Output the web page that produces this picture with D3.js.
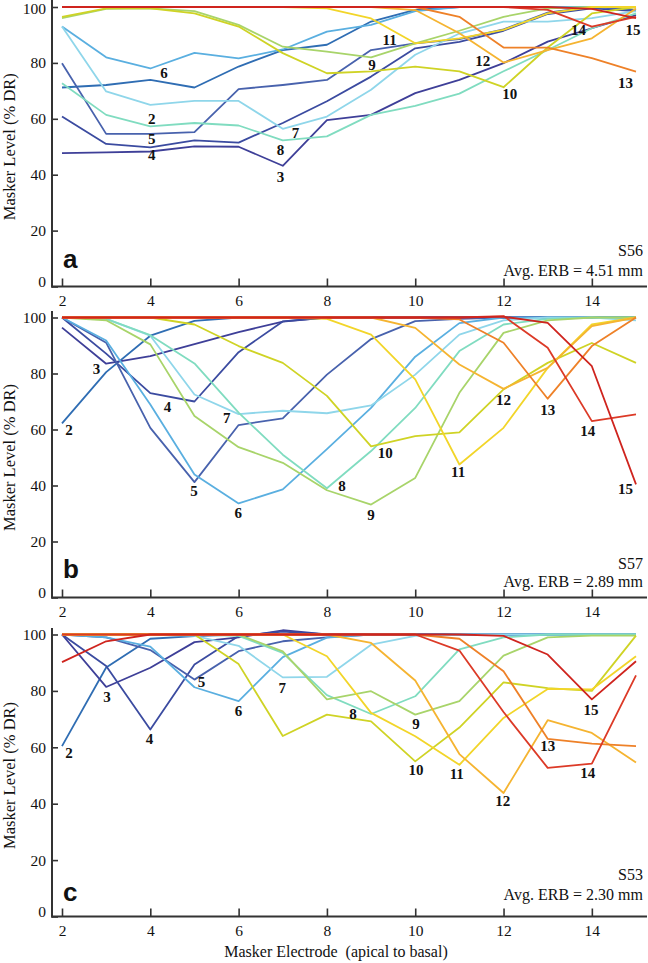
<!DOCTYPE html>
<html><head><meta charset="utf-8">
<script src="https://cdn.jsdelivr.net/npm/d3@7"></script>
<style>
body{margin:0;background:#fff}
svg{display:block}
text{font-family:"Liberation Serif","Times New Roman",serif;fill:#111}
</style>
</head><body>
<svg id="chart" width="648" height="963"></svg>
<script>
// ---- data ----
const electrodes = [2,3,4,5,6,7,8,9,10,11,12,13,14,15];
const probes = [2,3,4,5,6,7,8,9,10,11,12,13,14,15];
const probeColors = ["#2f6db3","#3e3f98","#3b4ba0","#4862ad","#5aafe0","#8fd6ea","#80dcc0",
                     "#a8d46a","#cfd325","#f2d529","#f5b431","#ee8128","#dc3a27","#cf241e"];
const xTicks = [2,4,6,8,10,12,14];
const yTicks = [0,20,40,60,80,100];

const s56Levels = [
 [71.2,72.1,73.9,71.2,78.7,84.6,86.5,94.8,99.0,100,100,100,100,100],
 [47.7,48.0,48.3,50.1,50.0,43.2,59.5,61.4,69.2,73.9,79.9,87.6,92.4,97.1],
 [60.8,51.0,49.8,52.3,51.5,58.5,66.3,75.1,85.2,87.5,91.5,97.5,99.5,98.5],
 [79.9,54.6,54.6,55.2,70.6,72.1,73.9,84.6,87.0,88.5,92.0,98.0,100,99.0],
 [93.0,82.0,78.0,83.6,81.6,84.8,91.2,93.6,98.5,100,100,100,100,100],
 [93.0,69.8,65.0,66.4,66.4,56.4,60.8,70.4,82.9,90.5,94.8,94.8,96.0,98.5],
 [72.7,61.4,57.3,58.5,57.6,52.3,53.7,61.4,64.6,69.0,77.0,84.6,92.4,97.7],
 [96.0,99.3,99.5,98.5,93.6,85.8,84.0,82.0,87.0,91.5,96.5,99.5,100,100],
 [96.5,99.5,99.5,97.7,93.0,83.5,76.3,77.0,78.7,77.0,71.3,85.5,97.7,100],
 [100,100,100,100,100,100,99.5,95.9,87.0,88.8,91.8,97.7,100,100],
 [100,100,100,100,100,100,100,100,98.9,90.6,80.1,84.6,88.8,99.5],
 [100,100,100,100,100,100,100,100,100,96.5,85.5,85.5,81.7,76.9],
 [100,100,100,100,100,100,100,100,100,100,100,99.0,93.0,96.5],
 [100,100,100,100,100,100,100,100,100,100,100,100,99.3,96.0]
];
const s57Levels = [
 [62.2,80.5,93.5,98.8,100,100,100,100,100,100,100,100,100,100],
 [96.4,83.5,86.2,90.5,94.8,98.5,100,100,100,100,100,100,100,100],
 [100,87.1,73.0,70.0,87.6,98.6,100,100,100,100,100,100,100,100],
 [100,91.0,60.6,41.2,61.6,64.0,79.6,92.3,98.7,99.5,100,100,100,100],
 [100,91.8,68.9,43.9,33.6,38.6,53.0,67.7,86.0,98.0,100,100,100,100],
 [100,99.5,93.5,72.5,65.5,66.7,65.8,68.6,79.6,93.9,99.0,100,100,99.0],
 [100,99.5,93.7,83.6,66.0,51.0,39.0,52.3,67.7,88.0,97.5,99.5,100,100],
 [100,99.0,90.4,64.8,53.7,48.1,38.3,33.2,42.7,73.1,94.5,99.0,100,100],
 [100,100,100,97.5,89.8,83.8,72.0,54.0,57.6,59.0,74.3,83.8,90.9,83.8],
 [100,100,100,100,100,100,99.5,93.9,77.9,47.5,60.6,82.0,97.5,100],
 [100,100,100,100,100,100,100,100,96.3,83.2,74.5,82.0,96.9,100],
 [100,100,100,100,100,100,100,100,100,99.3,91.0,71.0,89.8,100],
 [100,100,100,100,100,100,100,100,100,100,100.5,89.2,63.0,65.4],
 [100,100,100,100,100,100,100,100,100,100,100.3,98.1,82.6,40.4]
];
const s53Levels = [
 [60.4,88.3,98.5,99.4,100,100,100,100,100,100,100,100,100,100],
 [100,81.4,88.2,97.3,99.0,101.5,100,100,100,100,100,100,100,100],
 [100,88.8,66.3,89.4,99.5,101.0,100,100,100,100,100,100,100,100],
 [100,99.0,94.5,84.0,94.1,97.6,99.0,100,100,100,100,100,100,100],
 [100,99.0,95.7,81.3,76.4,92.0,98.9,100,100,100,100,100,100,100],
 [100,100,100,99.5,96.0,84.8,85.0,96.4,99.5,100,100,100,100,100],
 [100,100,100,100,99.5,93.5,78.5,71.8,78.1,94.7,99.0,100,100,100],
 [100,100,100,100,100,94.0,77.0,79.9,71.6,76.4,92.5,99.0,99.6,99.6],
 [100,100,100,100,89.5,64.0,71.6,69.2,55.0,67.0,83.0,81.0,80.0,99.6],
 [100,100,100,100,100,100,92.3,72.2,63.9,53.8,70.4,80.7,80.5,92.3],
 [100,100,100,100,100,100,100,97.0,83.7,57.6,43.8,69.6,65.1,54.6],
 [100,100,100,100,100,100,100,100,100,98.5,87.0,63.0,61.3,60.4],
 [100,100,100,100,100,100,100,100,100,94.3,72.5,52.7,54.2,85.5],
 [90.2,97.6,100,100,100,100,100,100,100,100,99.5,92.9,77.0,90.5]
];
// curve-label anchors in data units [electrode, level], probes 2..15
const s56LabelAt = [[4.03,60.0],[6.95,39.4],[4.03,47.0],[4.03,52.8],[4.31,76.5],[7.29,54.9],[6.95,48.9],
                    [9.02,79.3],[12.14,68.8],[9.42,88.2],[11.53,80.7],[14.76,73],[13.7,91.8],[14.93,92]];
const s57LabelAt = [[2.16,60],[2.78,81.8],[4.39,68.3],[4.99,38],[5.99,30.2],[5.73,64.2],[8.34,40],
                    [9.0,29.6],[9.32,51.7],[10.97,44.8],[12.0,70.7],[13.0,67.1],[13.91,59.4],[14.76,38.8]];
const s53LabelAt = [[2.16,58],[3.02,78.1],[3.98,63],[5.16,83.1],[6.0,72.8],[6.99,81.1],[8.59,72],
                    [10.02,68.4],[10.02,51.9],[10.94,50.7],[11.98,41.1],[13.0,60.4],[13.91,51],[13.98,73.4]];
const subjects = ["S56","S57","S53"];
const erbs = ["4.51","2.89","2.30"];
const panelLetters = ["a","b","c"];

// ---- layout ----
const layout = [
  {y0:286.5, y100:7,     top:0,   letterY:268, sY:256, erbY:276},
  {y0:597.5, y100:317.5, top:311, letterY:578, sY:569, erbY:587},
  {y0:916.5, y100:634.5, top:628, letterY:901, sY:880, erbY:900}
];
const levelSets = [s56Levels, s57Levels, s53Levels];
const labelSets = [s56LabelAt, s57LabelAt, s53LabelAt];

const svg = d3.select("#chart");
const x = d3.scaleLinear().domain([2,15]).range([62,636]);
const axisX = 52, axisColor = "#333";

layout.forEach((L, pi) => {
  const y = d3.scaleLinear().domain([0,100]).range([L.y0, L.y100]);
  const g = svg.append("g");

  // curves
  const line = d3.line().x((d,i)=>x(electrodes[i])).y(d=>y(d));
  levelSets[pi].forEach((arr,k) => {
    g.append("path").attr("d", line(arr)).attr("fill","none")
      .attr("stroke", probeColors[k]).attr("stroke-width",1.8)
      .attr("stroke-linejoin","round");
  });

  // y axis
  const ya = g.append("g").attr("transform",`translate(${axisX},0)`)
    .call(d3.axisLeft(y).tickValues(yTicks).tickSizeInner(-6).tickSizeOuter(0).tickPadding(6));
  ya.select(".domain").remove();
  ya.selectAll(".tick line").attr("stroke",axisColor).attr("stroke-width",1.6);
  ya.selectAll(".tick text").style("font-family","'Liberation Serif',serif")
    .style("font-size","15.5px").attr("fill","#111")
    .attr("dy", d => d===0 ? "0em" : (d===100 && pi===0 ? "0.4em" : "0.32em"));
  g.append("line").attr("x1",axisX).attr("x2",axisX).attr("y1",L.top).attr("y2",L.y0+1)
    .attr("stroke",axisColor).attr("stroke-width",2);

  // x axis
  const xa = g.append("g").attr("transform",`translate(0,${L.y0})`)
    .call(d3.axisBottom(x).tickValues(xTicks).tickSizeInner(-8).tickSizeOuter(0).tickPadding(8));
  xa.select(".domain").remove();
  xa.selectAll(".tick line").attr("stroke",axisColor).attr("stroke-width",1.6);
  xa.selectAll(".tick text").style("font-family","'Liberation Serif',serif")
    .style("font-size","15.5px").attr("fill","#111");
  g.append("line").attr("x1",axisX-1).attr("x2",647).attr("y1",L.y0).attr("y2",L.y0)
    .attr("stroke",axisColor).attr("stroke-width",2);

  // curve labels
  labelSets[pi].forEach((p,k) => {
    g.append("text").attr("x",x(p[0])).attr("y",y(p[1])).attr("dy","0.35em")
      .attr("text-anchor","middle").style("font-weight","bold").style("font-size","15px")
      .text(probes[k]);
  });

  // panel letter
  g.append("text").attr("x",63).attr("y",L.letterY)
    .style("font-family","'Liberation Sans',Arial,sans-serif").style("font-weight","bold")
    .style("font-size","26px").text(panelLetters[pi]);

  // subject + ERB
  g.append("text").attr("x",643).attr("y",L.sY).attr("text-anchor","end")
    .style("font-size","16px").text(subjects[pi]);
  g.append("text").attr("x",643).attr("y",L.erbY).attr("text-anchor","end")
    .style("font-size","16px").text(`Avg. ERB = ${erbs[pi]} mm`);

  // y title
  g.append("text").attr("transform",`translate(14.5,${(L.y0+L.y100)/2}) rotate(-90)`)
    .attr("text-anchor","middle").style("font-size","16.5px").text("Masker Level (% DR)");
});

svg.append("text").attr("x",336).attr("y",957).attr("text-anchor","middle")
  .style("font-size","16px").style("white-space","pre")
  .text("Masker Electrode  (apical to basal)");
</script>
</body></html>
